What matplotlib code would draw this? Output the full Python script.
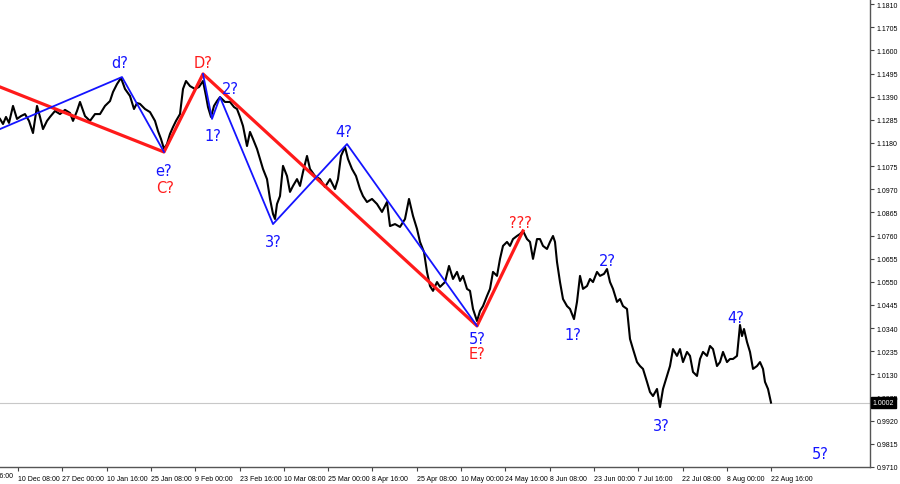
import matplotlib
matplotlib.use("Agg")
import matplotlib.pyplot as plt

# bar position (chart bars, left to right) and close price
bar = [0, 3, 6, 9, 13, 17, 21, 25, 29, 33, 37, 40, 43, 47, 50, 55, 60, 65, 70, 73,
       77, 80, 85, 90, 95, 100, 105, 110, 113, 117, 121, 125, 130, 134, 137, 140, 145,
       150, 155, 158, 161, 164, 167, 170, 173, 176, 180, 183, 186, 190, 195, 199, 203,
       206, 208, 211, 214, 217, 220, 225, 230, 234, 237, 240, 243, 247, 250, 253, 257,
       260, 263, 267, 270, 273, 275, 277, 280, 283, 287, 290, 293, 297, 300, 303, 307,
       310, 315, 320, 325, 330, 335, 338, 341, 345, 348, 352, 356, 360, 363, 367, 372,
       377, 382, 387, 390, 395, 400, 405, 409, 413, 417, 420, 424, 427, 430, 433, 437,
       440, 445, 449, 453, 457, 460, 463, 467, 470, 473, 477, 480, 483, 487, 490, 493,
       497, 500, 503, 507, 510, 513, 517, 520, 523, 527, 530, 533, 537, 540, 543, 547,
       550, 553, 555, 557, 560, 563, 567, 570, 574, 577, 580, 583, 587, 590, 593, 597,
       600, 604, 607, 610, 613, 617, 620, 623, 627, 630, 633, 637, 640, 643, 647, 650,
       653, 657, 660, 663, 667, 670, 673, 677, 680, 683, 687, 690, 693, 697, 700, 703,
       707, 710, 713, 717, 720, 723, 727, 730, 733, 737, 740, 742, 744, 747, 750, 753,
       757, 760, 763, 765, 768, 771]
close = [1.1289, 1.1266, 1.1298, 1.1271, 1.1348, 1.1289, 1.1302, 1.1311, 1.1280, 1.1225,
         1.1348, 1.1298, 1.1243, 1.1280, 1.1298, 1.1325, 1.1311, 1.1330, 1.1316, 1.1280,
         1.1325, 1.1366, 1.1302, 1.1280, 1.1311, 1.1311, 1.1348, 1.1370, 1.1411, 1.1447,
         1.1475, 1.1425, 1.1393, 1.1334, 1.1361, 1.1357, 1.1334, 1.1320, 1.1280, 1.1234,
         1.1198, 1.1153, 1.1175, 1.1221, 1.1252, 1.1280, 1.1311, 1.1425, 1.1461, 1.1438,
         1.1425, 1.1434, 1.1461, 1.1393, 1.1343, 1.1298, 1.1348, 1.1370, 1.1388, 1.1366,
         1.1366, 1.1343, 1.1334, 1.1298, 1.1257, 1.1166, 1.1230, 1.1198, 1.1153, 1.1107,
         1.1062, 1.1016, 1.0926, 1.0858, 1.0835, 1.0903, 1.0939, 1.1076, 1.1030, 1.0958,
         1.0985, 1.1016, 1.0985, 1.1048, 1.1121, 1.1062, 1.1030, 1.1016, 1.0980, 1.1016,
         1.0971, 1.1016, 1.1121, 1.1162, 1.1107, 1.1062, 1.1030, 1.0971, 1.0939, 1.0912,
         1.0926, 1.0903, 1.0867, 1.0912, 1.0803, 1.0812, 1.0799, 1.0835, 1.0926, 1.0849,
         1.0790, 1.0731, 1.0685, 1.0595, 1.0531, 1.0509, 1.0549, 1.0527, 1.0549, 1.0622,
         1.0563, 1.0595, 1.0554, 1.0577, 1.0518, 1.0509, 1.0427, 1.0372, 1.0418, 1.0440,
         1.0486, 1.0518, 1.0595, 1.0577, 1.0654, 1.0713, 1.0731, 1.0713, 1.0744, 1.0758,
         1.0767, 1.0781, 1.0744, 1.0731, 1.0654, 1.0744, 1.0744, 1.0713, 1.0699, 1.0731,
         1.0758, 1.0731, 1.0640, 1.0549, 1.0472, 1.0440, 1.0427, 1.0381, 1.0459, 1.0577,
         1.0518, 1.0531, 1.0563, 1.0549, 1.0595, 1.0577, 1.0586, 1.0608, 1.0549, 1.0518,
         1.0459, 1.0472, 1.0440, 1.0427, 1.0291, 1.0245, 1.0186, 1.0168, 1.0155, 1.0096,
         1.0050, 1.0032, 1.0064, 0.9982, 1.0064, 1.0123, 1.0168, 1.0245, 1.0214, 1.0245,
         1.0186, 1.0232, 1.0214, 1.0141, 1.0123, 1.0200, 1.0232, 1.0214, 1.0259, 1.0245,
         1.0168, 1.0186, 1.0232, 1.0186, 1.0200, 1.0200, 1.0214, 1.0354, 1.0304, 1.0336,
         1.0277, 1.0232, 1.0155, 1.0168, 1.0186, 1.0155, 1.0096, 1.0064, 1.0002]

# wave markup
red_bar = [0, 164, 203, 477, 523]
red_price = [1.1434, 1.1139, 1.1493, 1.0350, 1.0781]
blue1_bar = [0, 122, 164]
blue1_price = [1.1243, 1.1479, 1.1139]
blue2_bar = [203, 212, 220, 273, 347, 477]
blue2_price = [1.1493, 1.1289, 1.1388, 1.0812, 1.1175, 1.0350]

labels = ["d?", "e?", "C?", "D?", "2?", "1?", "3?", "4?", "???", "5?", "E?",
          "1?", "2?", "4?", "3?", "5?"]
label_bar = [120, 164, 165, 203, 230, 213, 273, 344, 520, 477, 477,
             573, 607, 736, 661, 820]
label_price = [1.1547, 1.1053, 1.0980, 1.1547, 1.1429, 1.1216, 1.0731, 1.1234,
               1.0821, 1.0295, 1.0223, 1.0309, 1.0649, 1.0386, 0.9896, 0.9769]
label_color = ["b", "b", "r", "r", "b", "b", "b", "b", "r", "b", "r",
               "b", "b", "b", "b", "b"]

price_ticks = [0.9710, 0.9815, 0.9920, 1.0025, 1.0130, 1.0235, 1.0340, 1.0445, 1.0550,
               1.0655, 1.0760, 1.0865, 1.0970, 1.1075, 1.1180, 1.1285, 1.1390, 1.1495,
               1.1600, 1.1705, 1.1810]
date_labels = ["10 Dec 08:00", "27 Dec 00:00", "10 Jan 16:00", "25 Jan 08:00",
               "9 Feb 00:00", "23 Feb 16:00", "10 Mar 08:00", "25 Mar 00:00",
               "8 Apr 16:00", "25 Apr 08:00", "10 May 00:00", "24 May 16:00",
               "8 Jun 08:00", "23 Jun 00:00", "7 Jul 16:00", "22 Jul 08:00",
               "8 Aug 00:00", "22 Aug 16:00"]
last_price = 1.0002

BLUE = "#1414ff"
RED = "#ff1a1a"
cols = {"b": BLUE, "r": RED}
SMALL = dict(family="Liberation Sans", size=5)

fig = plt.figure(figsize=(9, 4.85), dpi=100)
ax = fig.add_axes([0, 17 / 485, 870 / 900, 468 / 485])

ax.axhline(last_price, color="#c8c8c8", lw=0.8, zorder=1)
ax.plot(bar, close, color="black", lw=1.5, zorder=2)
ax.plot(red_bar, red_price, color=RED, lw=2.3, zorder=3)
ax.plot(blue1_bar, blue1_price, color=BLUE, lw=1.3, zorder=4)
ax.plot(blue2_bar, blue2_price, color=BLUE, lw=1.3, zorder=4)

for s, x, y, c in zip(labels, label_bar, label_price, label_color):
    ax.text(x, y, s, color=cols[c], fontsize=10.5, ha="center", va="center",
            family="DejaVu Sans")

ax.set_xlim(0, 870)
ax.set_ylim(0.9710, 1.1833)

ax.yaxis.tick_right()
ax.set_yticks(price_ticks)
ax.set_yticklabels([f"{p:.4f}" for p in price_ticks], fontdict=SMALL)
tick_pos = [18 + 44.3 * i for i in range(len(date_labels))]
ax.set_xticks(tick_pos)
ax.set_xticklabels(date_labels, fontdict=SMALL)
for lab in ax.get_xticklabels():
    lab.set_horizontalalignment("left")
ax.tick_params(axis="both", length=3, width=0.8, color="#444444",
               labelcolor="black", pad=2)
ax.tick_params(axis="x", pad=3)

# date label cut by the left edge
ax.text(-29, -0.019, "25 Nov 16:00", transform=ax.get_xaxis_transform(),
        ha="left", va="center", clip_on=False, **SMALL)

for side in ["left", "top"]:
    ax.spines[side].set_visible(False)
for side in ["right", "bottom"]:
    ax.spines[side].set_color("#555555")
    ax.spines[side].set_linewidth(1.0)

ax.text(1.003, last_price, f"{last_price:.4f}", transform=ax.get_yaxis_transform(),
        color="white", ha="left", va="center", clip_on=False, zorder=10,
        bbox=dict(boxstyle="square,pad=0.25", fc="black", ec="black"), **SMALL)

fig.savefig("out.png", dpi=100, facecolor="white")
